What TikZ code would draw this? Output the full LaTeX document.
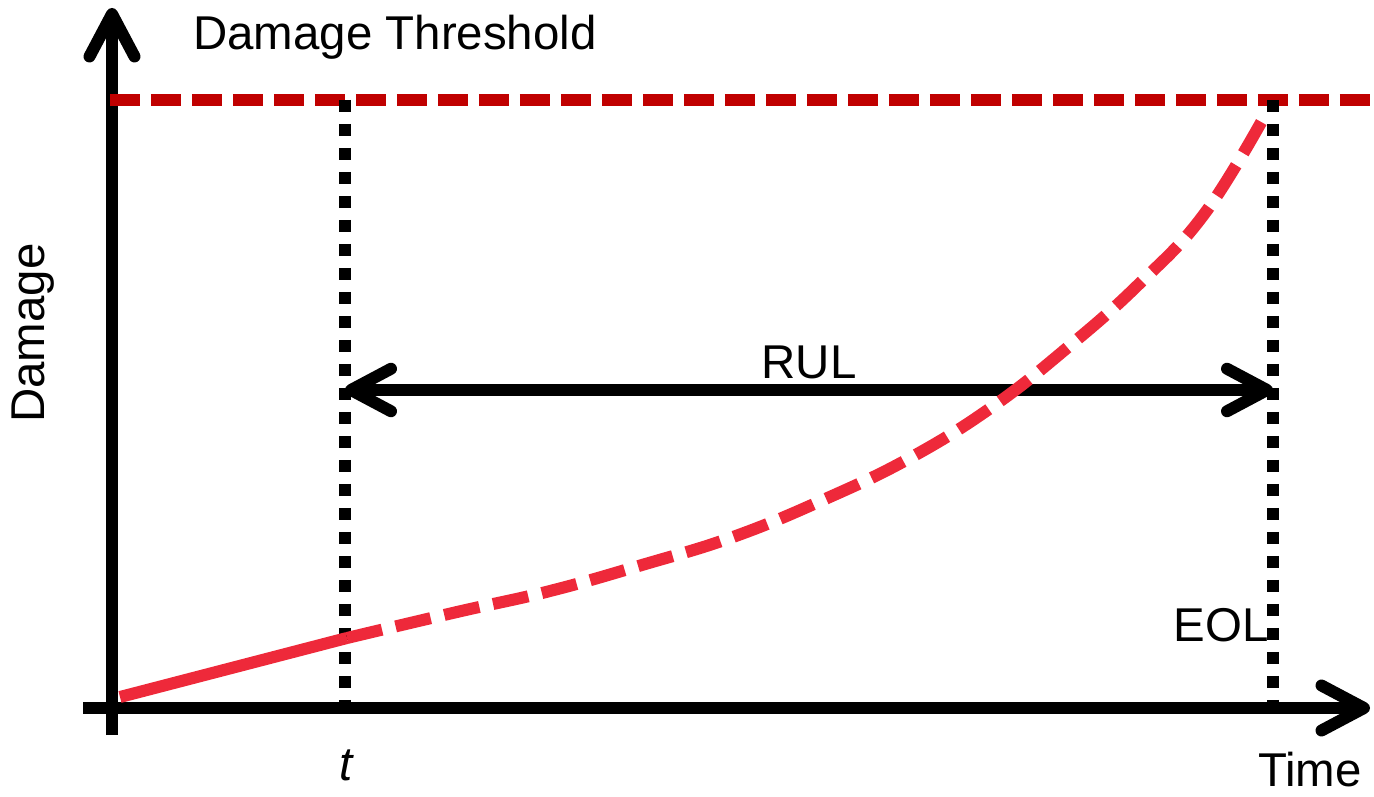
\documentclass[tikz,border=0pt]{standalone}
\usepackage{fontspec}
\setmainfont{Liberation Sans}
\usepackage{xcolor}
\usetikzlibrary{arrows.meta}
\definecolor{limitred}{RGB}{192,0,0}
\definecolor{damagered}{RGB}{238,41,58}

\begin{document}
\begin{tikzpicture}[x=0.02cm, y=-0.02cm,
    axis/.style={line width=0.24cm, -{Straight Barb[length=8.5mm, width=9mm, round]}},
    marker/.style={line width=0.24cm, dash pattern=on 0.24cm off 0.24cm},
    limit/.style={line width=0.25cm, limitred, dash pattern=on 0.6cm off 0.22cm},
    damage/.style={line width=0.24cm, damagered},
    lbl/.style={font=\fontsize{27}{32}\selectfont, inner sep=0pt},
    >={Straight Barb[length=8mm, width=8.5mm, round]}]
  \useasboundingbox (0,0) rectangle (1374,797);
  % axes
  \coordinate (ybot) at (112,735);
  \coordinate (ytop) at (112,8);
  \coordinate (xl) at (83,708);
  \coordinate (xr) at (1370,708);
  \draw[axis] (ybot) -- (ytop);
  \draw[axis] (xl) -- (xr);
  % threshold line
  \coordinate (thl) at (110,100);
  \coordinate (thr) at (1374,100);
  \draw[limit] (thl) -- (thr);
  % current time and end of life
  \coordinate (tt) at (345,100);
  \coordinate (tb) at (345,708);
  \coordinate (et) at (1273,100);
  \coordinate (eb) at (1273,708);
  \draw[marker] (tt) -- (tb);
  \draw[marker] (et) -- (eb);
  % remaining useful life
  \coordinate (rl) at (345,390);
  \coordinate (rr) at (1273,390);
  \draw[<->, line width=0.24cm] (rl) -- (rr);
  % damage: observed up to t, predicted after
  \coordinate (d0) at (120,697);
  \coordinate (dt) at (347,638);
  \draw[damage] (d0) -- (dt);
  \draw[damage, dash pattern=on 0.72cm off 0.28cm] plot[smooth, tension=0.7] coordinates
    {(dt) (457,612) (550,591) (642,565) (733,537) (823,500) (910,458) (992,407)
     (1067,348) (1138,285) (1205,213) (1268,110)};
  % labels
  \node[lbl] (thlab) at (395,37) {Damage Threshold};
  \node[lbl, rotate=90] (ylab) at (33,333) {Damage};
  \node[lbl] (rul) at (809,362) {RUL};
  \node[lbl] (eol) at (1221,625) {EOL};
  \node[lbl] (tlab) at (346,765) {\itshape t};
  \node[lbl] (xlab) at (1310,770) {Time};
\end{tikzpicture}
\end{document}
